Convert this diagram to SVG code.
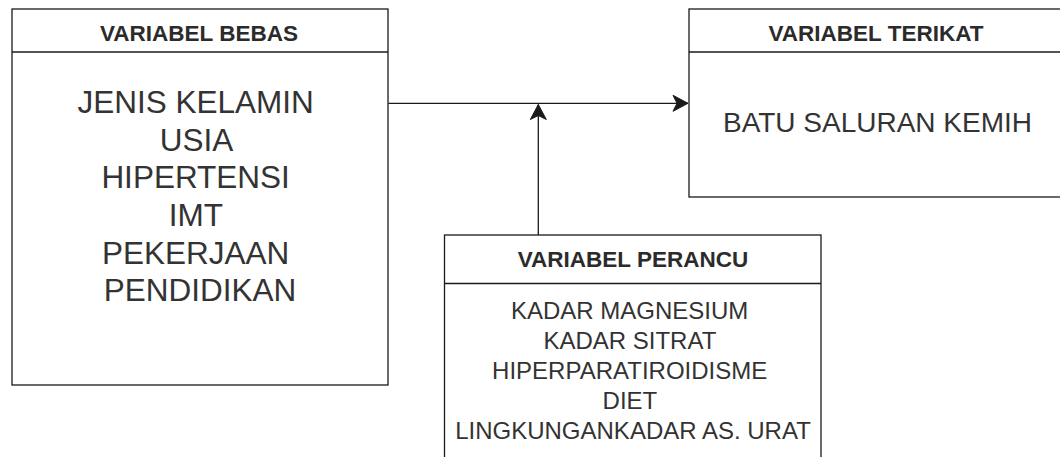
<svg xmlns="http://www.w3.org/2000/svg" width="1060" height="457" viewBox="0 0 1060 457">
  <style>
    .box { fill: #ffffff; stroke: #1a1a1a; stroke-width: 1.3; }
    .div { stroke: #1a1a1a; stroke-width: 1.3; fill: none; }
    .hdr { font-family: "Liberation Sans", Arial, sans-serif; font-weight: bold; font-size: 22.5px; fill: #2b2b2b; text-anchor: middle; }
    .body { font-family: "Liberation Sans", Arial, sans-serif; fill: #333333; text-anchor: middle; }
    .conn { stroke: #1a1a1a; stroke-width: 1.3; fill: none; }
  </style>
  <defs>
    <marker id="arrow" markerUnits="userSpaceOnUse" viewBox="-16 -9 17 18" refX="0" refY="0" markerWidth="17" markerHeight="18" orient="auto">
      <path d="M -15 -8 L 0 0 L -15 8 L -11 0 Z" fill="#1a1a1a" stroke="#1a1a1a" stroke-width="1" stroke-linejoin="miter"/>
    </marker>
  </defs>
  <rect width="1060" height="457" fill="#ffffff"/>

  <g id="variabel-bebas">
    <rect class="box" x="12" y="9" width="376" height="376"/>
    <line class="div" x1="12" y1="52" x2="388" y2="52"/>
    <text class="hdr" x="199" y="40.7">VARIABEL BEBAS</text>
    <text class="body" font-size="31.5" x="200">
      <tspan x="200" y="112.7">JENIS KELAMIN</tspan>
      <tspan x="200" y="150.5">USIA</tspan>
      <tspan x="200" y="188.3">HIPERTENSI</tspan>
      <tspan x="200" y="226">IMT</tspan>
      <tspan x="200" y="263.5">PEKERJAAN</tspan>
      <tspan x="200" y="301">PENDIDIKAN</tspan>
    </text>
  </g>

  <g id="variabel-terikat">
    <rect class="box" x="689" y="9" width="377" height="188"/>
    <line class="div" x1="689" y1="52" x2="1066" y2="52"/>
    <text class="hdr" x="876" y="40.7">VARIABEL TERIKAT</text>
    <text class="body" font-size="28" x="877.5" y="131.7">BATU SALURAN KEMIH</text>
  </g>

  <g id="variabel-perancu">
    <rect class="box" x="444.5" y="235" width="376.5" height="240"/>
    <line class="div" x1="444.5" y1="283.5" x2="821" y2="283.5"/>
    <text class="hdr" x="633" y="266.7">VARIABEL PERANCU</text>
    <text class="body" font-size="24" x="633">
      <tspan x="633" y="319">KADAR MAGNESIUM</tspan>
      <tspan x="633" y="349.3">KADAR SITRAT</tspan>
      <tspan x="633" y="379.3">HIPERPARATIROIDISME</tspan>
      <tspan x="633" y="409.3">DIET</tspan>
      <tspan x="633" y="439.3">LINGKUNGANKADAR AS. URAT</tspan>
    </text>
  </g>

  <g id="connectors">
    <path class="conn" d="M 388.3 103.3 L 688 103.3" marker-end="url(#arrow)"/>
    <path class="conn" d="M 538.3 235 L 538.3 104.5" marker-end="url(#arrow)"/>
  </g>
</svg>
